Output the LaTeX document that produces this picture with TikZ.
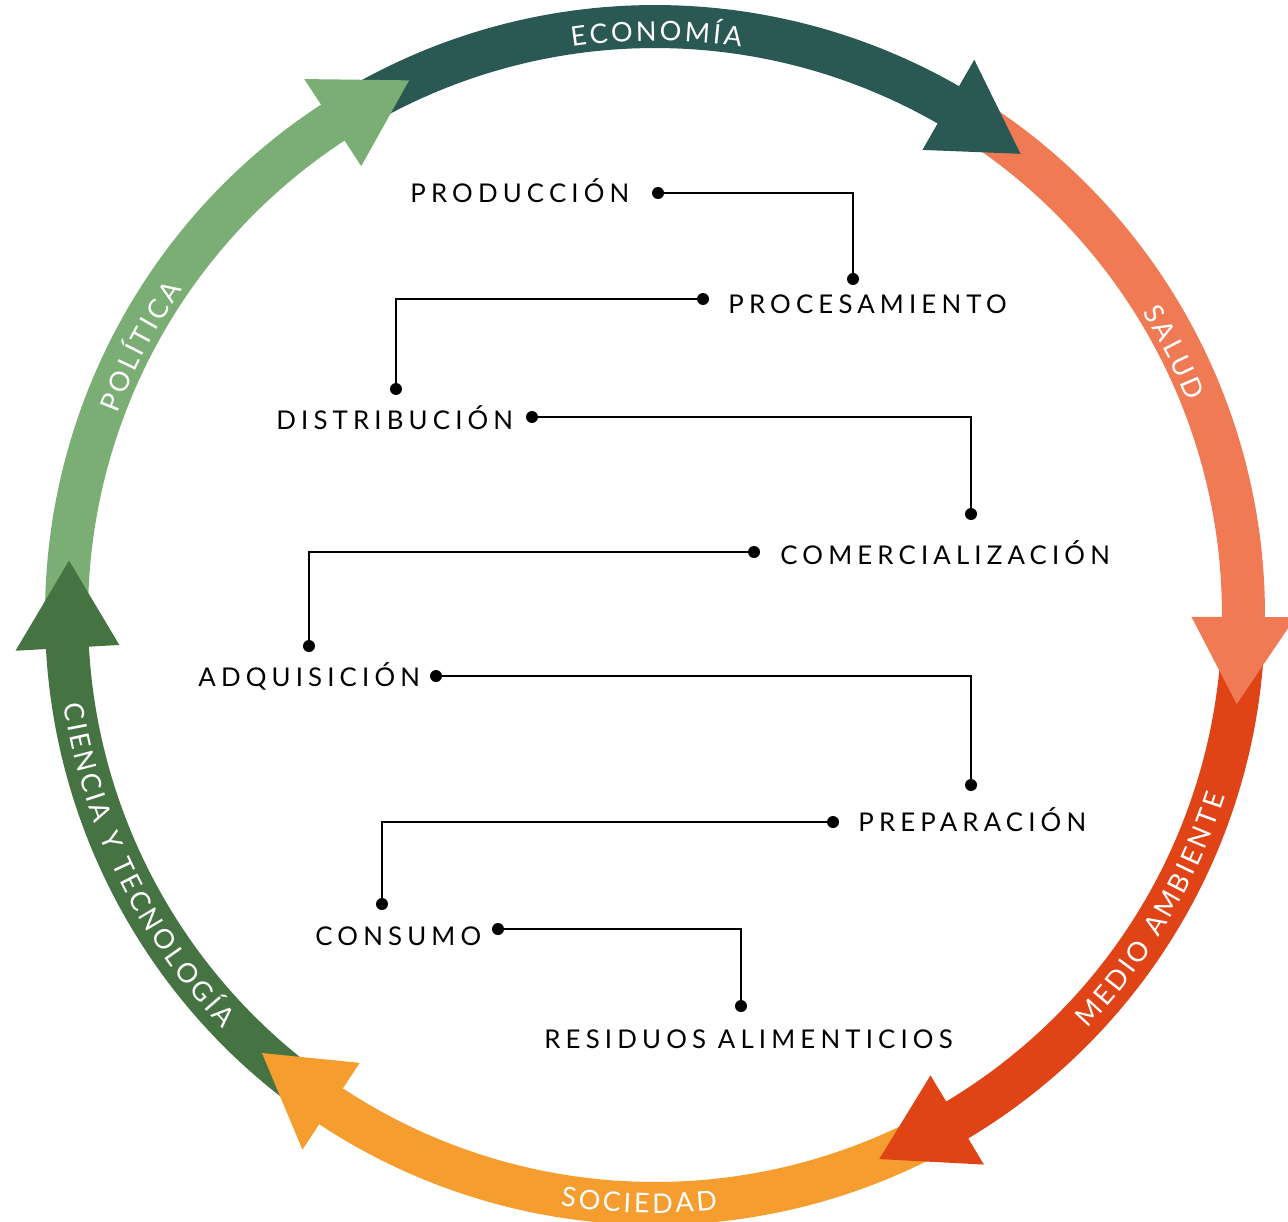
\documentclass[tikz,border=0pt]{standalone}
\usepackage{fontspec}
\usetikzlibrary{decorations.text}
\newfontfamily\labelfont[LetterSpace=20]{Lato}
\newfontfamily\arcfont{Lato}

\definecolor{econ}{HTML}{2A5853}
\definecolor{salud}{HTML}{EF7A54}
\definecolor{medio}{HTML}{E04416}
\definecolor{socie}{HTML}{F69D2F}
\definecolor{ciencia}{HTML}{457342}
\definecolor{politica}{HTML}{7BAE74}

\begin{document}
\begin{tikzpicture}[x=0.5pt, y=0.5pt,
        band/.style={line width=21.5pt},
        dot/.style={circle, fill=black, minimum size=6pt, inner sep=0pt},
        link/.style={line width=0.9pt},
        stage/.style={inner sep=0pt, anchor=base west, font=\labelfont\fontsize{12.9}{15}\selectfont},
        arclabel/.style={decorate, decoration={text along path, text align=center, text color=white,
                text={|\arcfont\fontsize{13.5}{16}\selectfont\kern1.5pt|#1}}}
    ]
    \useasboundingbox (-655,-606) rectangle (633,615);

    % Bands of the cycle, each starting under the previous head
    \foreach \tip/\prev/\col in {114.7/174.7/politica, 51.6/114.7/econ, -8.7/51.6/salud,
            -67.6/-8.7/medio, -131.9/-67.6/socie, -185.3/-131.9/ciencia} {
            \pgfmathsetmacro{\s}{\prev+6.5}
            \pgfmathsetmacro{\e}{\tip+7}
            \draw[band, \col] (\s:588.5) arc[start angle=\s, end angle=\e, radius=588.5];
        }

    % Arrow heads on top
    \foreach \tip/\col in {114.7/politica, 51.6/econ, -8.7/salud,
            -67.6/medio, -131.9/socie, -185.3/ciencia} {
            \fill[\col] (\tip:588.5) -- ({\tip+8.5}:536.5) -- ({\tip+8.5}:640.5) -- cycle;
        }

    % Labels along the ring
    \path[arclabel=ECONOMÍA] (135:574) arc[start angle=135, end angle=45, radius=574];
    \path[arclabel=SALUD] (72:574) arc[start angle=72, end angle=-18, radius=574];
    \path[arclabel=POLÍTICA] (197.6:574) arc[start angle=197.6, end angle=107.6, radius=574];
    \path[arclabel=MEDIO AMBIENTE] (-75.8:598) arc[start angle=-75.8, end angle=14.2, radius=598];
    \path[arclabel=SOCIEDAD] (-136.7:598) arc[start angle=-136.7, end angle=-46.7, radius=598];
    \path[arclabel=CIENCIA Y TECNOLOGÍA] (161:598) arc[start angle=161, end angle=251, radius=598];

    % Stages of the chain
    \node[stage] (prod) at (-245,412) {PRODUCCIÓN};
    \node[stage] (proc) at (73,301) {PROCESAMIENTO};
    \node[stage] (dist) at (-379,186) {DISTRIBUCIÓN};
    \node[stage] (comer) at (125,51) {COMERCIALIZACIÓN};
    \node[stage] (adq) at (-457,-71) {ADQUISICIÓN};
    \node[stage] (prep) at (203,-216) {PREPARACIÓN};
    \node[stage] (cons) at (-340,-330) {CONSUMO};
    \node[stage] (resid) at (-111,-433) {RESIDUOS ALIMENTICIOS};

    % Dots: o = leaving a stage, i = entering the next one
    \node[dot] (prod-o) at (3,422) {};
    \node[dot] (proc-i) at (198,336) {};
    \node[dot] (proc-o) at (48,316) {};
    \node[dot] (dist-i) at (-259,226) {};
    \node[dot] (dist-o) at (-123,198) {};
    \node[dot] (comer-i) at (316,101) {};
    \node[dot] (comer-o) at (99,63) {};
    \node[dot] (adq-i) at (-346,-31) {};
    \node[dot] (adq-o) at (-219,-61) {};
    \node[dot] (prep-i) at (316,-170) {};
    \node[dot] (prep-o) at (178,-207) {};
    \node[dot] (cons-i) at (-273,-289) {};
    \node[dot] (cons-o) at (-157,-314) {};
    \node[dot] (resid-i) at (86,-391) {};

    \draw[link] (prod-o) -| (proc-i);
    \draw[link] (proc-o) -| (dist-i);
    \draw[link] (dist-o) -| (comer-i);
    \draw[link] (comer-o) -| (adq-i);
    \draw[link] (adq-o) -| (prep-i);
    \draw[link] (prep-o) -| (cons-i);
    \draw[link] (cons-o) -| (resid-i);
\end{tikzpicture}
\end{document}
